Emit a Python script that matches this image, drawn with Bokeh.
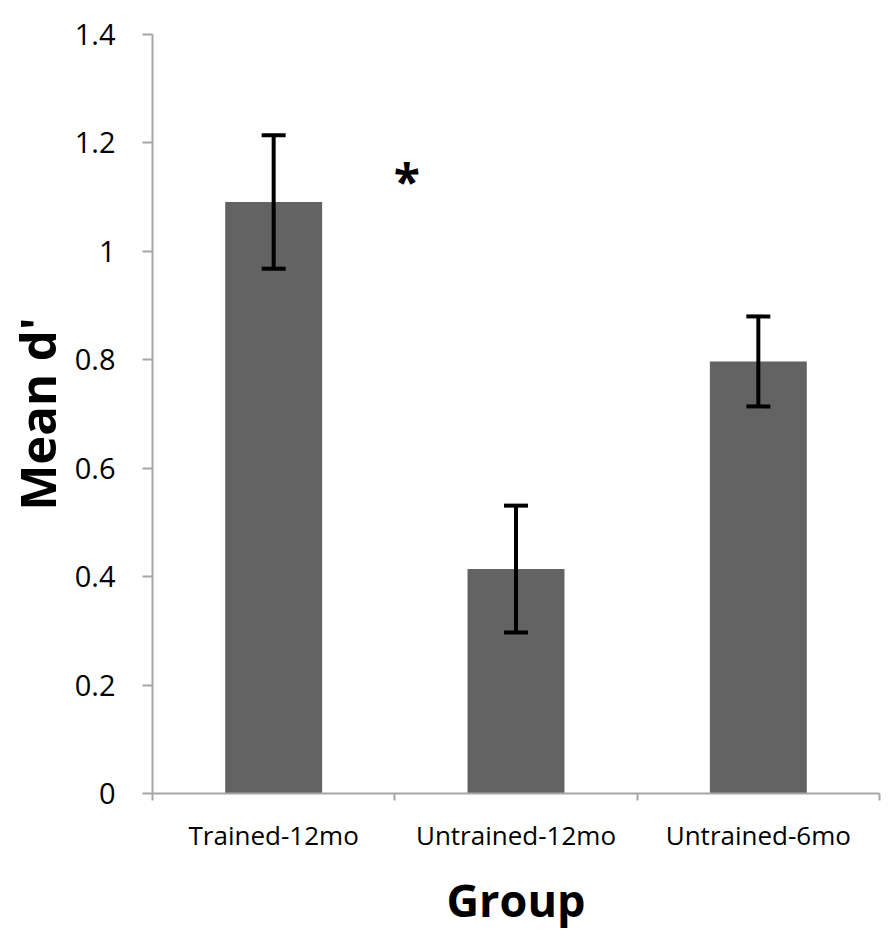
from bokeh.plotting import figure
from bokeh.models import FixedTicker, Range1d, Whisker, TeeHead, ColumnDataSource
from bokeh.core.properties import value
from bokeh.embed import file_html
from bokeh.resources import INLINE

groups = ["Trained-12mo", "Untrained-12mo", "Untrained-6mo"]
means = [1.091, 0.414, 0.797]
errors = [0.123, 0.117, 0.083]
y_ticks = [0, 0.2, 0.4, 0.6, 0.8, 1, 1.2, 1.4]
y_tick_labels = ["0", "0.2", "0.4", "0.6", "0.8", "1", "1.2", "1.4"]
sig_label = "*"
sig_x = 1.05
sig_y = 1.13

xs = [i + 0.5 for i in range(len(groups))]
src = ColumnDataSource(dict(
    x=xs, top=means,
    upper=[m + e for m, e in zip(means, errors)],
    lower=[m - e for m, e in zip(means, errors)],
))

FONT = "Open Sans"

p = figure(width=884, height=934, output_backend="svg", toolbar_location=None,
           x_range=Range1d(0, len(groups)), y_range=Range1d(0, 1.4),
           min_border_left=152, min_border_top=34, min_border_bottom=141,
           min_border_right=5)
p.outline_line_color = None
p.xgrid.visible = False
p.ygrid.visible = False

p.vbar(x="x", top="top", width=0.4, source=src, fill_color="#636363",
       line_color=None)

w = Whisker(source=src, base="x", upper="upper", lower="lower",
            line_color="black", line_width=4, level="overlay",
            upper_head=TeeHead(size=24, line_width=4, line_color="black"),
            lower_head=TeeHead(size=24, line_width=4, line_color="black"))
p.add_layout(w)

p.text(x=[sig_x], y=[sig_y], text=[sig_label], text_font=value(FONT),
       text_font_style="bold", text_font_size="48px", text_align="center",
       text_baseline="middle", text_color="black")

# y axis
ya = p.yaxis[0]
ya.ticker = FixedTicker(ticks=y_ticks, minor_ticks=[])
ya.major_label_overrides = {t: l for t, l in zip(y_ticks, y_tick_labels)}
ya.axis_line_color = "#a6a6a6"
ya.axis_line_width = 2
ya.major_tick_line_color = "#a6a6a6"
ya.major_tick_line_width = 2
ya.major_tick_out = 10
ya.major_tick_in = 0
ya.major_label_standoff = 27
ya.major_label_text_font = FONT
ya.major_label_text_font_size = "29px"
ya.major_label_text_color = "black"
ya.axis_label = "Mean d'"
ya.axis_label_text_font = FONT
ya.axis_label_text_font_style = "bold"
ya.axis_label_text_font_size = "49px"
ya.axis_label_text_color = "black"
ya.axis_label_standoff = 2

# x axis
xa = p.xaxis[0]
xa.ticker = FixedTicker(ticks=xs, minor_ticks=list(range(len(groups) + 1)))
xa.major_label_overrides = {x: g for x, g in zip(xs, groups)}
xa.axis_line_color = "#a6a6a6"
xa.axis_line_width = 2
xa.major_tick_line_color = None
xa.major_tick_out = 0
xa.major_tick_in = 0
xa.minor_tick_line_color = "#a6a6a6"
xa.minor_tick_line_width = 2
xa.minor_tick_out = 7
xa.minor_tick_in = 0
xa.major_label_standoff = 16
xa.major_label_text_font = FONT
xa.major_label_text_font_size = "26px"
xa.major_label_text_color = "black"
xa.axis_label = "Group"
xa.axis_label_text_font = FONT
xa.axis_label_text_font_style = "bold"
xa.axis_label_text_font_size = "45px"
xa.axis_label_text_color = "black"
xa.axis_label_standoff = 13

open("out.html", "w").write(file_html(p, INLINE))
